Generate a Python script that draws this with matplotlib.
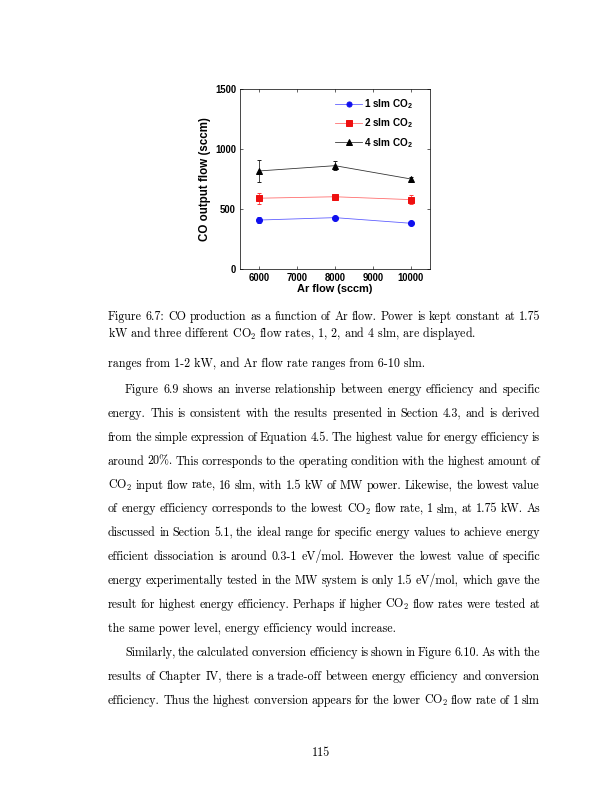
import numpy as np
import matplotlib
matplotlib.use("Agg")
import matplotlib.pyplot as plt

# data
ar_flow = [6000, 8000, 10000]
co_1slm = [408, 428, 381]
co_1slm_err = [25, 15, 12]
co_2slm = [590, 602, 578]
co_2slm_err = [45, 15, 35]
co_4slm = [817, 861, 750]
co_4slm_err = [90, 35, 15]
series_labels = ["1 slm CO$_\\mathregular{2}$", "2 slm CO$_\\mathregular{2}$", "4 slm CO$_\\mathregular{2}$"]
x_ticks = [6000, 7000, 8000, 9000, 10000]
y_ticks = [0, 500, 1000, 1500]

caption_lines = [
    "Figure 6.7: CO production as a function of Ar flow. Power is kept constant at 1.75",
    "kW and three different CO$_\\mathregular{2}$ flow rates, 1, 2, and 4 slm, are displayed.",
]
para1 = ["ranges from 1-2 kW, and Ar flow rate ranges from 6-10 slm."]
para2 = [
    "Figure 6.9 shows an inverse relationship between energy efficiency and specific",
    "energy. This is consistent with the results presented in Section 4.3, and is derived",
    "from the simple expression of Equation 4.5. The highest value for energy efficiency is",
    "around 20%. This corresponds to the operating condition with the highest amount of",
    "CO$_\\mathregular{2}$ input flow rate, 16 slm, with 1.5 kW of MW power. Likewise, the lowest value",
    "of energy efficiency corresponds to the lowest CO$_\\mathregular{2}$ flow rate, 1 slm, at 1.75 kW. As",
    "discussed in Section 5.1, the ideal range for specific energy values to achieve energy",
    "efficient dissociation is around 0.3-1 eV/mol. However the lowest value of specific",
    "energy experimentally tested in the MW system is only 1.5 eV/mol, which gave the",
    "result for highest energy efficiency. Perhaps if higher CO$_\\mathregular{2}$ flow rates were tested at",
    "the same power level, energy efficiency would increase.",
]
para3 = [
    "Similarly, the calculated conversion efficiency is shown in Figure 6.10. As with the",
    "results of Chapter IV, there is a trade-off between energy efficiency and conversion",
    "efficiency. Thus the highest conversion appears for the lower CO$_\\mathregular{2}$ flow rate of 1 slm",
]

W, H = 612, 792
fig = plt.figure(figsize=(W / 72, H / 72), dpi=72)
fig.patch.set_facecolor("white")

chart_font = ["Liberation Sans", "DejaVu Sans"]
body_font = ["cmr10", "DejaVu Serif"]

# ---- chart ----
ax = fig.add_axes([240 / W, 1 - 269 / H, 190 / W, 180 / H])
ax.errorbar(ar_flow, co_1slm, yerr=co_1slm_err, fmt="none", ecolor="#3a3aff", elinewidth=0.8, capsize=2)
ax.errorbar(ar_flow, co_2slm, yerr=co_2slm_err, fmt="none", ecolor="#ff4040", elinewidth=0.8, capsize=2)
ax.errorbar(ar_flow, co_4slm, yerr=co_4slm_err, fmt="none", ecolor="#202020", elinewidth=0.8, capsize=2)
l1, = ax.plot(ar_flow, co_1slm, "-", color="#5a5aff", lw=0.8, marker="o", ms=6, mfc="#1010ee", mec="#1010ee")
l2, = ax.plot(ar_flow, co_2slm, "-", color="#ff6a6a", lw=0.8, marker="s", ms=6, mfc="#ee1010", mec="#ee1010")
l3, = ax.plot(ar_flow, co_4slm, "-", color="#303030", lw=0.8, marker="^", ms=6, mfc="black", mec="black")

ax.set_xlim(5500, 10500)
ax.set_ylim(0, 1500)
ax.set_xticks(x_ticks)
ax.set_yticks(y_ticks)
ax.tick_params(direction="in", top=True, right=True, length=3, width=0.6, labelsize=9.5, pad=4)
for lab in ax.get_xticklabels() + ax.get_yticklabels():
    lab.set_family(chart_font)
    lab.set_fontweight("bold")
for s in ax.spines.values():
    s.set_linewidth(0.7)
ax.set_xlabel("Ar flow (sccm)", family=chart_font, fontweight="bold", fontsize=11, labelpad=1)
ax.set_ylabel("CO output flow (sccm)", family=chart_font, fontweight="bold", fontsize=11.5, labelpad=4)

leg = ax.legend([l1, l2, l3], series_labels, loc="upper left", frameon=False,
                prop={"family": chart_font, "weight": "bold", "size": 10},
                handlelength=2.7, handletextpad=0.2, labelspacing=0.55,
                borderpad=0, borderaxespad=0, markerscale=0.85,
                bbox_to_anchor=(0.5, 0.955))

# ---- body text ----
renderer = fig.canvas.get_renderer()
FS = 12


def put_line(text, y, x0=108, x1=540, justify=True):
    yf = 1 - y / H
    if not justify:
        fig.text(x0 / W, yf, text, family=body_font, fontsize=FS, ha="left", va="baseline")
        return
    words = text.split(" ")
    items = [fig.text(0, yf, w, family=body_font, fontsize=FS, ha="left", va="baseline") for w in words]
    widths = [t.get_window_extent(renderer).width for t in items]
    gap = (x1 - x0 - sum(widths)) / (len(words) - 1)
    x = x0
    for t, w in zip(items, widths):
        t.set_x(x / W)
        x += w + gap


put_line(caption_lines[0], 320)
put_line(caption_lines[1], 337, justify=False)
put_line(para1[0], 367, justify=False)

y = 393
for i, line in enumerate(para2):
    last = i == len(para2) - 1
    put_line(line, y, x0=125 if i == 0 else 108, justify=not last)
    y += 23.9
for i, line in enumerate(para3):
    put_line(line, y, x0=125 if i == 0 else 108)
    y += 23.9

fig.text(321 / W, 1 - 756 / H, "115", family=body_font, fontsize=FS, ha="center", va="baseline")

fig.savefig("out.png", dpi=72)
